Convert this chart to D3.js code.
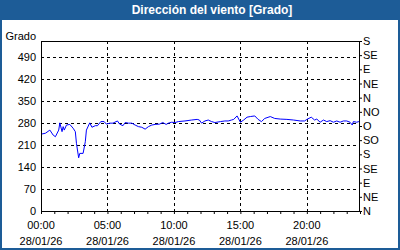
<!DOCTYPE html>
<html>
<head>
<meta charset="utf-8">
<script src="https://cdn.jsdelivr.net/npm/d3@7"></script>
<style>
  body { margin: 0; background: #fff; }
  svg text { font-family: "Liberation Sans", Arial, sans-serif; }
</style>
</head>
<body>
<div id="chart"></div>
<script>
// data (time of day, wind direction in degrees)
var times = ["00:00","00:20","00:40","00:55","01:05","01:20","01:25","01:35","01:40","01:45",
  "01:55","02:10","02:25","02:35","02:40","02:50","02:55","03:10","03:20","03:25",
  "03:40","03:50","04:05","04:15","04:30","04:45","04:55","05:10","05:25","05:45",
  "05:55","06:10","06:20","06:35","06:50","07:05","07:20","07:35","07:50","08:05",
  "08:20","08:35","08:55","09:10","09:25","09:35","09:50","10:05","10:20","10:50",
  "11:20","11:45","11:55","12:05","12:20","12:35","12:50","13:05","13:30","13:50",
  "14:05","14:20","14:30","14:45","15:00","15:15","15:30","15:45","16:05","16:20",
  "16:35","16:50","17:15","17:35","18:00","18:30","19:00","19:30","19:50","20:00",
  "20:20","20:35","20:45","21:00","21:15","21:30","21:45","22:00","22:15","22:30",
  "22:45","23:00","23:15","23:25","23:30","23:45","23:55"];
var direction = [244,247,257,241,236,257,280,252,268,257,
  273,275,263,252,215,169,183,183,220,257,
  280,266,271,271,284,284,276,279,279,286,
  276,271,281,279,279,273,268,266,260,268,
  273,275,276,281,275,279,282,281,284,286,
  289,291,289,279,286,289,284,281,284,286,
  286,289,291,302,282,289,298,300,302,291,
  284,294,300,294,292,291,289,286,286,291,
  298,289,292,282,289,284,287,282,286,282,
  286,286,282,273,284,282,284];

var yTicks = [0, 70, 140, 210, 280, 350, 420, 490];
var compassTicks = [0, 45, 90, 135, 180, 225, 270, 315, 360, 405, 450, 495, 540];
var compassLabels = ["N","NE","E","SE","S","SO","O","NO","N","NE","E","SE","S"];
var dateLabel = "28/01/26";
var title = "Dirección del viento [Grado]";
var unit = "Grado";

var svgWidth = 400, svgHeight = 250;
var margin = { top: 41, right: 40, bottom: 39, left: 41 };
var width = svgWidth - margin.left - margin.right;
var height = svgHeight - margin.top - margin.bottom;
var blue = "#1d5c97";

var svg = d3.select("#chart").append("svg")
  .attr("width", svgWidth)
  .attr("height", svgHeight);

// frame and title bar
svg.append("rect")
  .attr("x", 1).attr("y", 1)
  .attr("width", svgWidth - 2).attr("height", svgHeight - 2)
  .attr("fill", "#fff").attr("stroke", blue).attr("stroke-width", 2);
svg.append("rect")
  .attr("x", 0).attr("y", 0)
  .attr("width", svgWidth).attr("height", 20)
  .attr("fill", blue);
svg.append("text")
  .attr("x", 212).attr("y", 14)
  .attr("text-anchor", "middle")
  .attr("fill", "#fff")
  .attr("font-weight", "bold")
  .attr("font-size", "12px")
  .text(title);

var parse = d3.timeParse("%d/%m/%y %H:%M");
var points = times.map(function(t, i) {
  return { date: parse("28/01/26 " + t), value: direction[i] };
});
var start = parse("28/01/26 00:00");
var end = d3.timeDay.offset(start, 1);

var x = d3.scaleTime().domain([start, end]).range([0, width]);
var y = d3.scaleLinear().domain([0, 540]).range([height, 0]);

var chartGroup = svg.append("g")
  .attr("transform", `translate(${margin.left}, ${margin.top})`);

chartGroup.append("rect")
  .attr("width", width).attr("height", height)
  .attr("fill", "#fff");

// dashed grid
var gridX = d3.timeHour.every(5).range(d3.timeHour.offset(start, 1), end);
chartGroup.append("g").selectAll("line")
  .data(gridX).enter().append("line")
  .attr("x1", d => Math.round(x(d)) + 0.5).attr("x2", d => Math.round(x(d)) + 0.5)
  .attr("y1", 0).attr("y2", height)
  .attr("stroke", "#000").attr("stroke-dasharray", "3,3");
chartGroup.append("g").selectAll("line")
  .data(yTicks.slice(1)).enter().append("line")
  .attr("x1", 0).attr("x2", width)
  .attr("y1", d => Math.round(y(d)) + 0.5).attr("y2", d => Math.round(y(d)) + 0.5)
  .attr("stroke", "#000").attr("stroke-dasharray", "3,3");

// the series
var line = d3.line()
  .x(d => x(d.date))
  .y(d => y(d.value));
chartGroup.append("path")
  .datum(points)
  .attr("d", line)
  .attr("fill", "none")
  .attr("stroke", "#0000ff")
  .attr("stroke-width", 1);

// plot border
chartGroup.append("rect")
  .attr("x", 0.5).attr("y", 0.5)
  .attr("width", width - 1).attr("height", height)
  .attr("fill", "none").attr("stroke", "#000");

// left axis: labels only
var leftAxis = d3.axisLeft(y).tickValues(yTicks).tickSize(0).tickPadding(5);
var gl = chartGroup.append("g").call(leftAxis);
gl.select(".domain").remove();
gl.selectAll("text").attr("font-size", "11px").attr("font-family", null).attr("fill", "#000");
chartGroup.append("text")
  .attr("x", -5).attr("y", -1)
  .attr("text-anchor", "end")
  .attr("font-size", "11px")
  .text(unit);

// right axis: compass points
var rightAxis = d3.axisRight(y).tickValues(compassTicks)
  .tickFormat((d, i) => compassLabels[i]).tickSize(3).tickPadding(1);
var gr = chartGroup.append("g")
  .attr("transform", `translate(${width - 1}, 0)`)
  .call(rightAxis);
gr.select(".domain").remove();
gr.selectAll("text").attr("font-size", "11px").attr("font-family", null).attr("fill", "#000");

// bottom axis: hourly ticks, labels every 5 hours
var bottomAxis = d3.axisBottom(x).ticks(d3.timeHour.every(1)).tickSize(3).tickFormat("");
var gb = chartGroup.append("g")
  .attr("transform", `translate(0, ${height})`)
  .call(bottomAxis);
gb.select(".domain").remove();

var labelHours = d3.timeHour.every(5).range(start, end);
var lab = chartGroup.append("g").selectAll("g")
  .data(labelHours).enter().append("g")
  .attr("transform", d => `translate(${x(d)}, ${height})`);
lab.append("text")
  .attr("y", 18).attr("text-anchor", "middle").attr("font-size", "11px")
  .text(d3.timeFormat("%H:%M"));
lab.append("text")
  .attr("y", 34).attr("text-anchor", "middle").attr("font-size", "11px")
  .text(dateLabel);
</script>
</body>
</html>
